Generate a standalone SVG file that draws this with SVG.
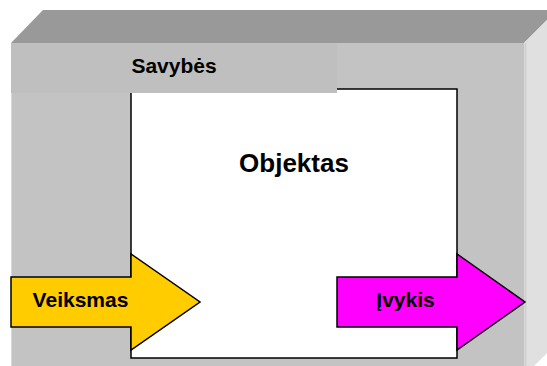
<svg xmlns="http://www.w3.org/2000/svg" width="547" height="366" viewBox="0 0 547 366">
  <style>
    .lbl { font-family: "Liberation Sans", Arial, sans-serif; font-weight: bold; fill: #000; text-anchor: middle; }
    .edge { stroke: #000; stroke-width: 1.5; stroke-linejoin: miter; }
  </style>
  <rect width="547" height="366" fill="#ffffff"/>

  <!-- 3D frame: top, right side and front face -->
  <g id="frame">
    <polygon points="11,43 43,10 557,10 524,43" fill="#999999"/>
    <polygon points="524,43 557,10 557,343 524,376" fill="#e0e0e0"/>
    <rect x="11" y="43" width="513" height="340" fill="#c3c3c3"/>
    <line x1="11.5" y1="43" x2="11.5" y2="366" stroke="#d8d8d8" stroke-width="1"/>
    <line x1="525.5" y1="43" x2="525.5" y2="366" stroke="#d0d0d0" stroke-width="2"/>
  </g>

  <!-- central object box -->
  <g id="objektas">
    <rect x="131" y="89" width="326" height="269" fill="#ffffff" class="edge"/>
    <text x="294" y="172" class="lbl" font-size="26">Objektas</text>
  </g>

  <!-- properties band -->
  <g id="savybes">
    <rect x="11" y="43" width="326" height="50" fill="#bfbfbf"/>
    <text x="174" y="73" class="lbl" font-size="21">Savybės</text>
  </g>

  <!-- connectors: action in, event out -->
  <g id="connectors">
    <g id="veiksmas">
      <polygon points="11,277 131,277 131,254 200,302 131,350 131,327 11,327" fill="#ffcc00" class="edge"/>
      <text x="80.5" y="307" class="lbl" font-size="21">Veiksmas</text>
    </g>
    <g id="ivykis">
      <polygon points="337,277 457,277 457,254 525,302 457,350 457,327 337,327" fill="#ff00ff" class="edge"/>
      <text x="405.5" y="307" class="lbl" font-size="21">Įvykis</text>
    </g>
  </g>
</svg>
